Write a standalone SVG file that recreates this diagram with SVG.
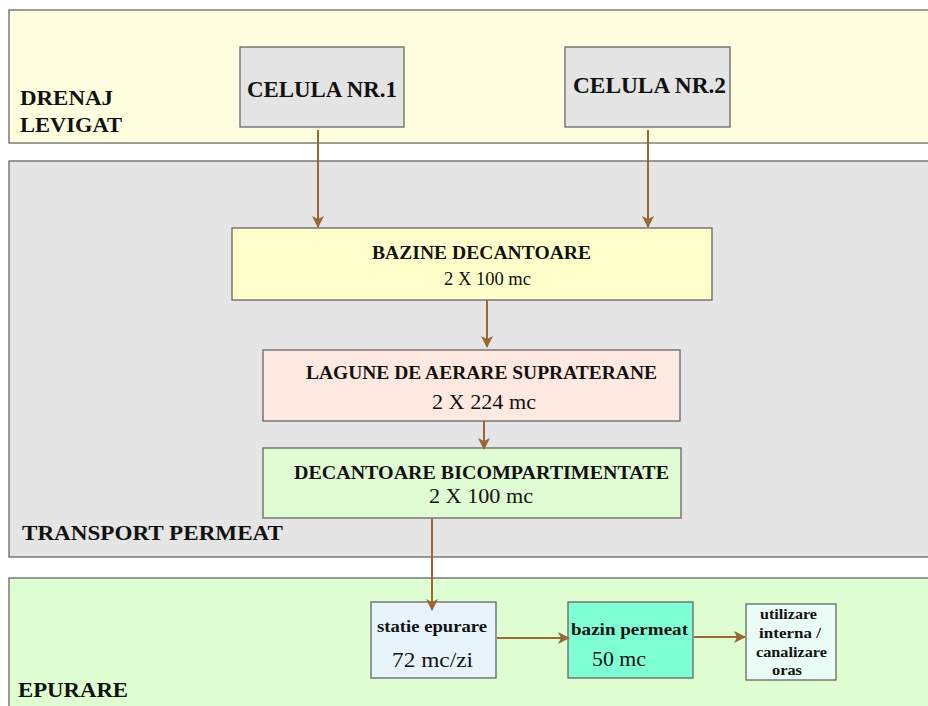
<svg xmlns="http://www.w3.org/2000/svg" width="928" height="706" viewBox="0 0 928 706">
<style>
.band{stroke:#5a5a5a;stroke-width:1.2}
.box{stroke:#666;stroke-width:1.3}
text{font-family:"Liberation Serif","Times New Roman",serif;fill:#111}
.b{font-weight:bold}
.con{stroke:#9a6633;stroke-width:2;fill:none;marker-end:url(#ah)}
</style>
<defs>
<marker id="ah" viewBox="0 0 12 12" refX="11" refY="6" markerWidth="12" markerHeight="12" markerUnits="userSpaceOnUse" orient="auto">
<path d="M0,0 L12,6 L0,12 L3,6 z" fill="#9a6633"/>
</marker>
</defs>
<rect width="928" height="706" fill="#ffffff"/>
<g id="band-drenaj">
<rect class="band" x="9" y="10" width="925" height="133" fill="#ffffe0"/>
<text class="b" x="20" y="105" font-size="20" textLength="93" lengthAdjust="spacingAndGlyphs">DRENAJ</text>
<text class="b" x="20" y="132" font-size="20" textLength="102" lengthAdjust="spacingAndGlyphs">LEVIGAT</text>
</g>
<g id="band-transport">
<rect class="band" x="9" y="161" width="925" height="396" fill="#e5e5e5"/>
<text class="b" x="22" y="540" font-size="22" textLength="261" lengthAdjust="spacingAndGlyphs">TRANSPORT PERMEAT</text>
</g>
<g id="band-epurare">
<rect class="band" x="9" y="578" width="925" height="140" fill="#dfffd3"/>
<text class="b" x="18" y="697" font-size="20" textLength="110" lengthAdjust="spacingAndGlyphs">EPURARE</text>
</g>
<g id="celula1">
<rect class="box" x="240" y="47" width="164" height="80" fill="#e4e4e4"/>
<text class="b" x="247" y="97" font-size="24" textLength="150" lengthAdjust="spacingAndGlyphs">CELULA NR.1</text>
</g>
<g id="celula2">
<rect class="box" x="565" y="47" width="165" height="80" fill="#e4e4e4"/>
<text class="b" x="573" y="93" font-size="24" textLength="153" lengthAdjust="spacingAndGlyphs">CELULA NR.2</text>
</g>
<g id="bazine">
<rect class="box" x="232" y="228" width="480" height="72" fill="#ffffcc"/>
<text class="b" x="372" y="259" font-size="18" textLength="219" lengthAdjust="spacingAndGlyphs">BAZINE DECANTOARE</text>
<text x="444" y="285" font-size="18" textLength="87" lengthAdjust="spacingAndGlyphs">2 X 100 mc</text>
</g>
<g id="lagune">
<rect class="box" x="263" y="350" width="417" height="71" fill="#fde9e0"/>
<text class="b" x="306" y="379" font-size="18" textLength="351" lengthAdjust="spacingAndGlyphs">LAGUNE DE AERARE SUPRATERANE</text>
<text x="432" y="409" font-size="21" textLength="104" lengthAdjust="spacingAndGlyphs">2 X 224 mc</text>
</g>
<g id="decantoare">
<rect class="box" x="263" y="448" width="418" height="70" fill="#e0fcd2"/>
<text class="b" x="294" y="479" font-size="18" textLength="375" lengthAdjust="spacingAndGlyphs">DECANTOARE  BICOMPARTIMENTATE</text>
<text x="429" y="503" font-size="20" textLength="104" lengthAdjust="spacingAndGlyphs">2 X 100 mc</text>
</g>
<g id="statie">
<rect class="box" x="371" y="602" width="125" height="76" fill="#e8f4fc"/>
<text class="b" x="377" y="632" font-size="17" textLength="110" lengthAdjust="spacingAndGlyphs">statie epurare</text>
<text x="392" y="667" font-size="22" textLength="81" lengthAdjust="spacingAndGlyphs">72 mc/zi</text>
</g>
<g id="bazin-permeat">
<rect class="box" x="568" y="602" width="125" height="76" fill="#7fffd4"/>
<text class="b" x="571" y="635" font-size="17" textLength="117" lengthAdjust="spacingAndGlyphs">bazin permeat</text>
<text x="592" y="666" font-size="21" textLength="54" lengthAdjust="spacingAndGlyphs">50 mc</text>
</g>
<g id="utilizare">
<rect class="box" x="746" y="604" width="90" height="76" fill="#eafcf6"/>
<text class="b" x="760" y="619" font-size="14" textLength="57" lengthAdjust="spacingAndGlyphs">utilizare</text>
<text class="b" x="759" y="638" font-size="14" textLength="62" lengthAdjust="spacingAndGlyphs">interna /</text>
<text class="b" x="756" y="657" font-size="14" textLength="71" lengthAdjust="spacingAndGlyphs">canalizare</text>
<text class="b" x="772" y="675" font-size="14" textLength="30" lengthAdjust="spacingAndGlyphs">oras</text>
</g>
<g id="connectors">
<line class="con" x1="318" y1="130" x2="318" y2="227"/>
<line class="con" x1="648" y1="130" x2="648" y2="227"/>
<line class="con" x1="487" y1="300" x2="487" y2="347"/>
<line class="con" x1="484" y1="421" x2="484" y2="449"/>
<line class="con" x1="432" y1="518" x2="432" y2="610"/>
<line class="con" x1="497" y1="638" x2="569" y2="638"/>
<line class="con" x1="694" y1="637" x2="745" y2="637"/>
</g>
</svg>
